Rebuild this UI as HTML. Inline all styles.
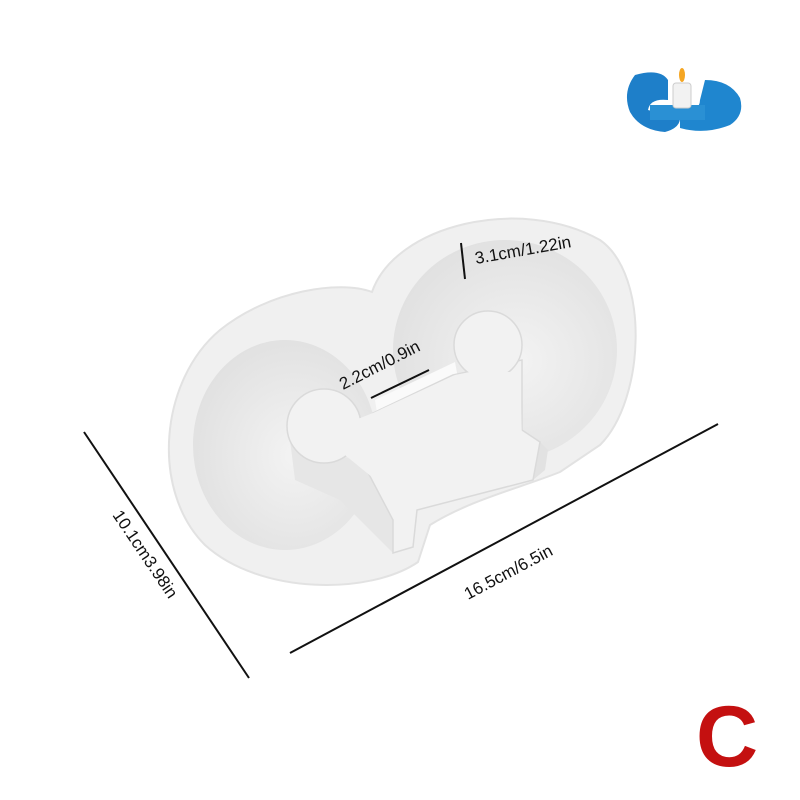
<!DOCTYPE html>
<html><head><meta charset="utf-8"><style>
html,body{margin:0;padding:0;background:#fff;width:800px;height:800px;overflow:hidden}
svg{display:block}
text{font-family:"Liberation Sans",sans-serif;fill:#111}
</style></head><body>
<svg width="800" height="800" viewBox="0 0 800 800" xmlns="http://www.w3.org/2000/svg">
<defs>
<radialGradient id="cav" cx="55%" cy="55%" r="60%">
<stop offset="0" stop-color="#f3f3f3"/><stop offset="1" stop-color="#e0e0e0"/>
</radialGradient>
</defs>
<g>
<path d="M635,75 Q660,68 668,80 L668,100 Q650,98 648,110 L680,118 Q680,128 665,132 Q640,130 630,112 Q622,92 635,75Z" fill="#1e7fc9"/>
<path d="M705,80 Q730,80 740,98 Q745,115 730,125 Q705,135 680,128 L680,112 Q700,112 700,100 Z" fill="#1f86cf"/>
<path d="M650,105 L705,105 L705,120 L650,120Z" fill="#2a90d4"/>
<rect x="673" y="83" width="18" height="25" rx="3" fill="#f2f2f2" stroke="#ccc"/>
<ellipse cx="682" cy="75" rx="3" ry="7" fill="#f5a623"/>
</g>
<path d="M372,292 C395,225 520,195 600,240 C650,275 645,400 600,445 L560,472 C520,488 470,500 430,525 L418,562 C370,595 260,595 205,545 C150,490 160,380 220,330 C270,290 340,280 372,292Z" fill="#f0f0f0" stroke="#e2e2e2" stroke-width="2"/>
<ellipse cx="285" cy="445" rx="92" ry="105" fill="url(#cav)"/>
<ellipse cx="505" cy="350" rx="112" ry="110" fill="url(#cav)"/>
<path d="M375,400 L455,362 L462,400 L380,432Z" fill="#fafafa"/>
<path d="M290,440 L295,480 L340,500 L393,553 L413,547 L393,520 L363,463 Z" fill="#e6e6e6"/>
<path d="M540,442 L533,480 L545,470 L548,450Z" fill="#e2e2e2"/>
<path d="M373,413 L453,375 L522,360 L522,430 L540,442 L533,480 L417,510 L413,547 L393,553 L393,520 L363,463 Z" fill="#f2f2f2" stroke="#dadada" stroke-width="1.5"/>
<circle cx="488" cy="345" r="34" fill="#f2f2f2" stroke="#dadada" stroke-width="1.5"/>
<circle cx="324" cy="426" r="37" fill="#f2f2f2" stroke="#dadada" stroke-width="1.5"/>
<path d="M350,422 L373,413 L455,375 L470,372 L520,372 L522,440 L400,500 L345,455Z" fill="#f2f2f2"/>
<g stroke="#111" stroke-width="2">
<line x1="461" y1="243" x2="465" y2="279"/>
<line x1="371" y1="398" x2="429" y2="370"/>
<line x1="290" y1="653" x2="718" y2="424"/>
<line x1="84" y1="432" x2="249" y2="678"/>
</g>
<text x="476" y="264" font-size="17" transform="rotate(-10 476 264)">3.1cm/1.22in</text>
<text x="343" y="390" font-size="17" transform="rotate(-27 343 390)">2.2cm/0.9in</text>
<text x="468" y="600" font-size="17" transform="rotate(-28 468 600)">16.5cm/6.5in</text>
<text x="112" y="515" font-size="17" transform="rotate(56 112 515)">10.1cm3.98in</text>
<text x="696" y="766" font-size="86" font-weight="bold" style="fill:#c41010">C</text>
</svg>
</body></html>
